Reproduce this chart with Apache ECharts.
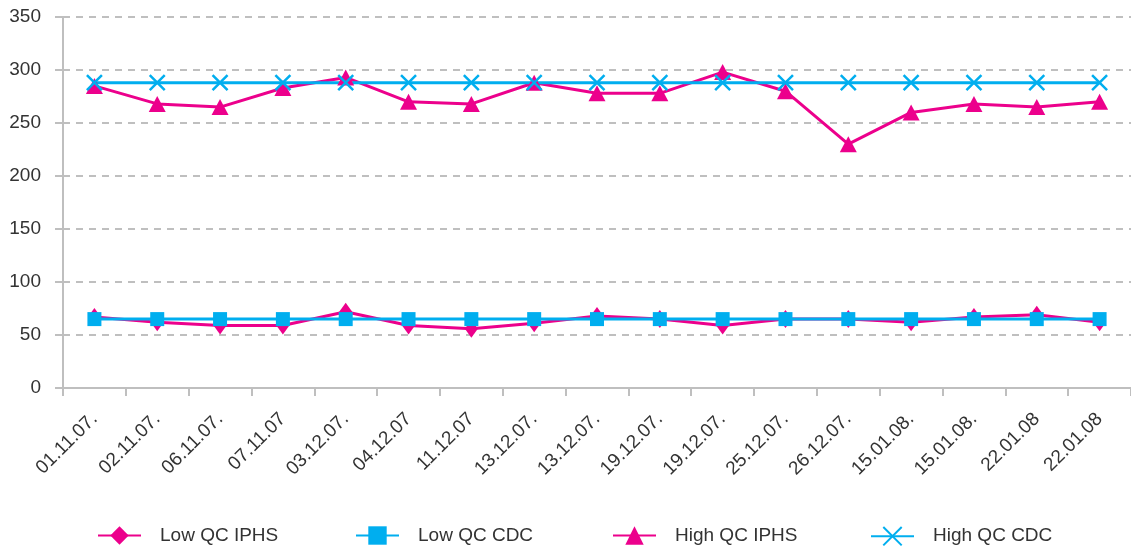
<!DOCTYPE html>
<html>
<head>
<meta charset="utf-8">
<title>QC comparison</title>
<script src="https://cdn.jsdelivr.net/npm/echarts@6/dist/echarts.min.js"></script>
<style>
  html, body { margin: 0; padding: 0; background: #ffffff; }
  #chart { width: 1131px; height: 549px; }
</style>
</head>
<body>
<div id="chart"></div>
<script>
// Run dates (x-axis categories)
const dates = ['01.11.07.', '02.11.07.', '06.11.07.', '07.11.07', '03.12.07.', '04.12.07', '11.12.07',
  '13.12.07.', '13.12.07.', '19.12.07.', '19.12.07.', '25.12.07.', '26.12.07.', '15.01.08.',
  '15.01.08.', '22.01.08', '22.01.08'];

// Control values per run
const lowQcIphs  = [67, 62, 59, 59, 72, 59, 56, 61, 68, 65, 59, 65, 65, 62, 67, 69, 62];
const lowQcCdc   = [65, 65, 65, 65, 65, 65, 65, 65, 65, 65, 65, 65, 65, 65, 65, 65, 65];
const highQcIphs = [285, 268, 265, 283, 293, 270, 268, 288, 278, 278, 298, 280, 230, 260, 268, 265, 270];
const highQcCdc  = [288, 288, 288, 288, 288, 288, 288, 288, 288, 288, 288, 288, 288, 288, 288, 288, 288];

const yTicks = { min: 0, max: 350, step: 50 };
const seriesNames = ['Low QC IPHS', 'Low QC CDC', 'High QC IPHS', 'High QC CDC'];

const PINK = '#EC008C';
const BLUE = '#00AEEF';
const GRAY = '#BFBFBF';
const TEXT = '#333333';
const FONT = '"Liberation Sans", Arial, Helvetica, sans-serif';

const crossPath = 'path://M0,0L16,16M16,0L0,16';

function lineSeries(name, data, color, symbol, size, extra) {
  return Object.assign({
    name: name,
    type: 'line',
    data: data,
    symbol: symbol,
    symbolSize: size,
    showAllSymbol: true,
    lineStyle: { color: color, width: 3 },
    itemStyle: { color: color },
    emphasis: { disabled: true },
    animation: false
  }, extra || {});
}

function legendAt(left, name) {
  return {
    left: left,
    top: 526,
    padding: 0,
    itemWidth: 43,
    itemHeight: 23,
    data: [name],
    selectedMode: false,
    textStyle: { fontFamily: FONT, fontSize: 19, color: TEXT, padding: [0, 0, 0, 14] }
  };
}

const chart = echarts.init(document.getElementById('chart'), null, { renderer: 'canvas' });

chart.setOption({
  backgroundColor: '#ffffff',
  animation: false,
  grid: { left: 63, right: 0, top: 17, bottom: 161, containLabel: false },
  legend: [
    legendAt(97, seriesNames[0]),
    legendAt(355, seriesNames[1]),
    legendAt(612, seriesNames[2]),
    legendAt(870, seriesNames[3])
  ],
  xAxis: {
    type: 'category',
    data: dates,
    boundaryGap: true,
    axisLine: { lineStyle: { color: GRAY, width: 2 } },
    axisTick: { show: true, length: 8, alignWithLabel: false, lineStyle: { color: GRAY, width: 2 } },
    axisLabel: {
      interval: 0,
      rotate: 45,
      margin: 28,
      fontFamily: FONT,
      fontSize: 19,
      color: TEXT
    },
    splitLine: { show: false }
  },
  yAxis: {
    type: 'value',
    min: yTicks.min,
    max: yTicks.max,
    interval: yTicks.step,
    axisLine: { show: true, lineStyle: { color: GRAY, width: 2 } },
    axisTick: { show: true, length: 8, lineStyle: { color: GRAY, width: 2 } },
    axisLabel: { margin: 22, fontFamily: FONT, fontSize: 19, color: TEXT },
    splitLine: { show: true, lineStyle: { color: GRAY, width: 2, type: [7, 6] } }
  },
  series: [
    lineSeries(seriesNames[0], lowQcIphs, PINK, 'diamond', [13, 18]),
    lineSeries(seriesNames[1], lowQcCdc, BLUE, 'rect', [14, 14]),
    lineSeries(seriesNames[2], highQcIphs, PINK, 'triangle', [17, 16]),
    lineSeries(seriesNames[3], highQcCdc, BLUE, crossPath, [15, 15], {
      itemStyle: { color: BLUE, borderColor: BLUE, borderWidth: 2.5 }
    })
  ]
});
</script>
</body>
</html>
